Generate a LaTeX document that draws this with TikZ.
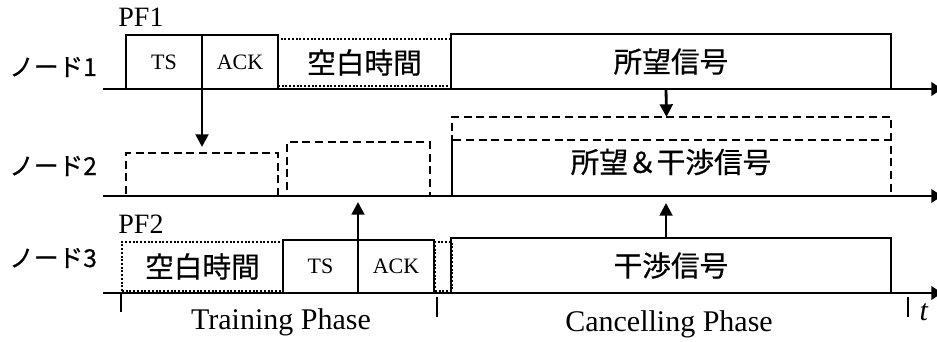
\documentclass[tikz,border=0pt]{standalone}
\usepackage{fontspec}
\setmainfont{Liberation Serif}
\newfontfamily\jp[FakeBold=0.6]{Noto Sans CJK JP}
\usetikzlibrary{arrows.meta}
\tikzset{
  sz/.style 2 args={minimum width=#1*0.75pt, minimum height=#2*0.75pt, inner sep=0pt, outer sep=0pt, anchor=south west},
  solidbox/.style={draw, line width=1.8pt},
  dashbox/.style={draw, line width=1.8pt, dash pattern=on 6pt off 3.5pt},
  dotbox/.style={draw, line width=1.6pt, dash pattern=on 1.5pt off 1.3pt},
  latin/.style={font=\fontsize{16.5}{18}\selectfont},
  jpbig/.style={font=\jp\fontsize{21.5}{24}\selectfont},
  jplab/.style={font=\jp\fontsize{18.5}{20}\selectfont, inner sep=0pt},
  biglab/.style={font=\fontsize{22.5}{24}\selectfont, inner sep=0pt},
  pflab/.style={font=\fontsize{21}{22}\selectfont, inner sep=0pt},
  arr/.style={line width=2.1pt, -{Triangle[length=9.5pt,width=9.5pt]}},
  axisline/.style={line width=2.1pt, -{Triangle[length=8pt,width=10pt]}},
  tick/.style={line width=1.6pt}
}
\begin{document}
\begin{tikzpicture}[x=0.75pt,y=-0.75pt]
\useasboundingbox (0,0) rectangle (937,342);

% Node 1
\node[solidbox, sz={76}{54}, latin] (TS1) at (126,89) {TS};
\node[solidbox, sz={76}{54}, latin] (ACK1) at (202,89) {ACK};
\node[dotbox, sz={173}{47}, jpbig] (BL1) at (278,86) {空白時間};
\node[solidbox, sz={440}{55}, jpbig] (DS1) at (451,89) {所望信号};

% Node 2
\node[dashbox, sz={152}{43}] (D1) at (126,196) {};
\node[dashbox, sz={143}{54}] (D2) at (287,196) {};
\node[dashbox, sz={439}{79}] (D3o) at (452,196) {};
\node[dashbox, sz={439}{56}] (D3i) at (452,196) {};
\node[jpbig, inner sep=0pt] (D3t) at (671,162) {所望＆干渉信号};

% Node 3
\node[dotbox, sz={161}{49}, jpbig] (BL3) at (122,291) {空白時間};
\node[solidbox, sz={75}{53}, latin] (TS3) at (283,293) {TS};
\node[solidbox, sz={76}{53}, latin] (ACK3) at (358,293) {ACK};
\node[dotbox, sz={17}{49}] (SM3) at (435,291) {};
\node[solidbox, sz={440}{55}, jpbig] (IN3) at (451,293) {干渉信号};

% Axes
\coordinate (ax1s) at (103,89);  \coordinate (ax1e) at (942,89);
\coordinate (ax2s) at (103,196); \coordinate (ax2e) at (942,196);
\coordinate (ax3s) at (103,293); \coordinate (ax3e) at (942,293);
\draw[axisline] (ax1s) -- (ax1e);
\draw[axisline] (ax2s) -- (ax2e);
\draw[axisline] (ax3s) -- (ax3e);

% Ticks
\coordinate (t1a) at (121,293); \coordinate (t1b) at (121,312);
\coordinate (t2a) at (437,297); \coordinate (t2b) at (437,317);
\coordinate (t3a) at (908,297); \coordinate (t3b) at (908,317);
\draw[tick] (t1a) -- (t1b);
\draw[tick] (t2a) -- (t2b);
\draw[tick] (t3a) -- (t3b);

% Arrows
\coordinate (a1e) at (202,147);
\draw[arr] (TS1.south east) -- (a1e);
\draw[arr] ([xshift=-3.75pt]DS1.south) -- ([xshift=-3.75pt]D3o.north);
\coordinate (a3e) at (358,202);
\draw[arr] (TS3.north east) -- (a3e);
\coordinate (a4e) at (666,203);
\draw[arr] ([xshift=-3.75pt]IN3.north) -- (a4e);

% Labels
\node[pflab, anchor=base] (pf1) at (141,27) {PF1};
\node[pflab, anchor=base] (pf2) at (141,233) {PF2};
\node[jplab, anchor=base west] (n1) at (9,76) {ノード1};
\node[jplab, anchor=base west] (n2) at (9,175) {ノード2};
\node[jplab, anchor=base west] (n3) at (9,267) {ノード3};
\node[biglab, anchor=base] (tp) at (281,329) {Training Phase};
\node[biglab, anchor=base] (cp) at (669,331) {Cancelling Phase};
\node[biglab, anchor=base] (tl) at (924,320) {\textit{t}};
\end{tikzpicture}
\end{document}
